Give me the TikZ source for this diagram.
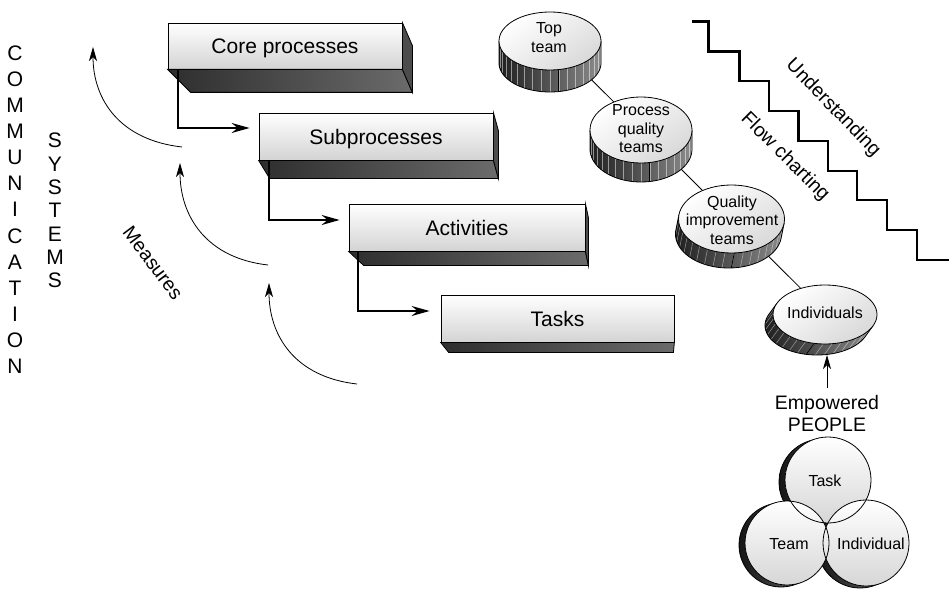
\documentclass[tikz,border=0pt]{standalone}
\usepackage{fontspec}
\setmainfont{Liberation Sans}
\usetikzlibrary{arrows.meta,calc,backgrounds}

% Tilted disk: #1,#2 centre of the top face; #3,#4 radii;
% #5,#6 offset of the side wall; #7 angle where the wall starts
\newcommand\diskbody[7]{%
  \pgfmathsetmacro\diskend{#7+180}%
  \path[diskwall] ({#1+#3*cos(#7)},{#2+#4*sin(#7)})
     -- plot[domain=#7:\diskend,samples=60] ({#1+#5+#3*cos(\x)},{#2+#6+#4*sin(\x)})
     -- ({#1+#3*cos(\diskend)},{#2+#4*sin(\diskend)}) -- cycle;
  \foreach \k in {1,...,17}
    \draw[wallstripe] ({#1+#3*cos(#7+10*\k)},{#2+#4*sin(#7+10*\k)}) -- ++(#5,#6);
  \draw[line width=0.8pt] ({#1+#3*cos(#7+80)},{#2+#4*sin(#7+80)}) -- ++(#5,#6);
  \draw[line width=0.8pt] ({#1+#3*cos(#7)},{#2+#4*sin(#7)})
     -- plot[domain=#7:\diskend,samples=60] ({#1+#5+#3*cos(\x)},{#2+#6+#4*sin(\x)})
     -- ({#1+#3*cos(\diskend)},{#2+#4*sin(\diskend)});
  \path[disktop] (#1,#2) ellipse[x radius=#3pt, y radius=#4pt];
}

% Extruded bottom face of a box node: #1 node, #2,#3 left depth, #4,#5 right depth
\newcommand\boxbottom[5]{%
  \path[bottomface] (#1.south west) -- ++(#2,#3) -- ($(#1.south east)+(#4,#5)$)
     -- (#1.south east) -- cycle;
}
\newcommand\boxright[3]{%
  \path[sideface] (#1.north east) -- ++(#2,#3) -- ($(#1.south east)+(#2,#3)$)
     -- (#1.south east) -- cycle;
}

\begin{document}
\begin{tikzpicture}[x=1pt,y=-1pt,
  boxface/.style={draw=black, line width=0.8pt, top color=white, bottom color=black!17,
    inner sep=0pt, font=\fontsize{21}{25}\selectfont, text height=15.2pt, text depth=0pt},
  bottomface/.style={draw=black, line width=0.8pt, left color=black!82, right color=black!58},
  sideface/.style={draw=black, line width=0.8pt, fill=black!70},
  elbow/.style={line width=2pt, -{Stealth[length=18pt,width=10pt,inset=6pt]}},
  thinarrow/.style={line width=0.8pt, -{Stealth[length=14pt,width=8pt,inset=4pt]}},
  diskwall/.style={left color=black!88, right color=black!45},
  wallstripe/.style={draw=white, opacity=0.5, line width=0.5pt},
  disktop/.style={draw=black, line width=0.8pt, top color=white, bottom color=black!15, shading angle=35},
  disklabel/.style={align=center, inner sep=0pt, font=\fontsize{16}{18.5}\selectfont},
  vennshade/.style={draw=black, line width=0.8pt, left color=black!92, right color=black!55},
  vennball/.style={top color=white, bottom color=black!16},
  vennline/.style={draw=black, line width=0.8pt},
  vertword/.style={align=center, inner sep=0pt, anchor=north},
  slanted/.style={inner sep=0pt, font=\fontsize{19.5}{23}\selectfont},
]
\useasboundingbox (0,0) rectangle (949,591);

% ---------- process hierarchy ----------
\node[boxface, minimum width=234pt, minimum height=46pt] (core) at (285,46) {Core processes};
\node[boxface, minimum width=234pt, minimum height=47pt] (sub) at (376,136.5) {Subprocesses};
\node[boxface, minimum width=236pt, minimum height=47pt] (act) at (467,227.5) {Activities};
\node[boxface, minimum width=233pt, minimum height=47pt] (tasks) at (557.5,318.5) {Tasks};

\boxbottom{core}{23}{23}{10}{23}
\boxright{core}{10}{23}
\boxbottom{sub}{11}{18}{5}{18}
\boxright{sub}{5}{18}
\boxbottom{act}{15}{14}{3}{14}
\boxright{act}{3}{14}
\boxbottom{tasks}{8}{10}{-1}{10}

\draw[elbow] ([xshift=10pt]core.south west) |- ($(sub.west)+(-9,-8.5)$);
\draw[elbow] ([xshift=10pt]sub.south west) |- ($(act.west)+(-9,-7.5)$);
\draw[elbow] ([xshift=9pt]act.south west) |- ($(tasks.west)+(-11,-7.5)$);

% ---------- measures ----------
\coordinate (m1s) at (182,147); \coordinate (m1e) at (93,47);
\coordinate (m2s) at (268,265); \coordinate (m2e) at (180,163);
\coordinate (m3s) at (357,384); \coordinate (m3e) at (269,283);
\draw[thinarrow] (m1s) .. controls +(-62,-7) and +(0,53) .. (m1e);
\draw[thinarrow] (m2s) .. controls +(-62,-7) and +(0,53) .. (m2e);
\draw[thinarrow] (m3s) .. controls +(-62,-7) and +(0,53) .. (m3e);
\node[slanted, rotate=-53] (measures) at (153,263) {Measures};

% ---------- side captions ----------
\node[vertword, font=\fontsize{21}{26.1}\selectfont] (comm) at (15,45.5)
  {C\\O\\M\\M\\U\\N\\I\\C\\A\\T\\I\\O\\N};
\node[vertword, font=\fontsize{21}{23.3}\selectfont] (sys) at (55,133)
  {S\\Y\\S\\T\\E\\M\\S};

% ---------- staircase ----------
\draw[line width=2.4pt, line join=miter] (692,21.7) -- (708.3,21.7) -- (708.3,51.7) -- (739.3,51.7)
  -- (739.3,81) -- (769,81) -- (769,111) -- (798.3,111) -- (798.3,141) -- (827.7,141)
  -- (827.7,171) -- (856.7,171) -- (856.7,200) -- (886.7,200) -- (886.7,230)
  -- (916.7,230) -- (916.7,260) -- (949,260);
\node[slanted, rotate=-46] (underst) at (833,108) {Understanding};
\node[slanted, rotate=-45] (flow) at (785,157) {Flow charting};

% ---------- team disks ----------
\diskbody{550}{41}{51}{29}{0}{22}{0}
\diskbody{641}{130}{51}{33}{0}{19}{0}
\diskbody{731.5}{219}{53}{34}{-3}{15}{7}
\diskbody{825}{314.5}{52}{29.5}{-8}{11}{22}

\node[disklabel] (topteam) at (549,37.5) {Top\\team};
\node[disklabel] (pqt) at (641,129) {Process\\quality\\teams};
\node[disklabel] (qit) at (732,220) {Quality\\improvement\\teams};
\node[disklabel] (indiv) at (825,312.5) {Individuals};
\coordinate (indbase) at (827,355);

\begin{pgfonlayer}{background}
  \draw[line width=0.8pt] (topteam.center) -- (pqt.center);
  \draw[line width=0.8pt] (pqt.center) -- (qit.center);
  \draw[line width=0.8pt] (qit.center) -- (indiv.center);
\end{pgfonlayer}

% ---------- empowered people ----------
\node[align=center, inner sep=0pt, font=\fontsize{19.5}{22}\selectfont] (emp) at (827,413.5)
  {Empowered\\PEOPLE};
\draw[thinarrow] ([yshift=7pt]emp.north) -- (indbase);

\coordinate (ctask) at (828,480);
\coordinate (cteam) at (787,543);
\coordinate (cind) at (866,543);
\path[vennshade] ($(ctask)+(-6,2)$) circle[radius=43pt];
\path[vennshade] ($(cteam)+(-6,2)$) circle[radius=42pt];
\path[vennshade] ($(cind)+(-6,2)$) circle[radius=43pt];
\path[vennball] (ctask) circle[radius=43pt];
\path[vennball] (cteam) circle[radius=42pt];
\path[vennball] (cind) circle[radius=43pt];
\path[vennline] (ctask) circle[radius=43pt];
\path[vennline] (cteam) circle[radius=42pt];
\path[vennline] (cind) circle[radius=43pt];
\node[disklabel] (task) at (825,481) {Task};
\node[disklabel] (team) at (789,544) {Team};
\node[disklabel] (indl) at (871,544) {Individual};
\end{tikzpicture}
\end{document}
